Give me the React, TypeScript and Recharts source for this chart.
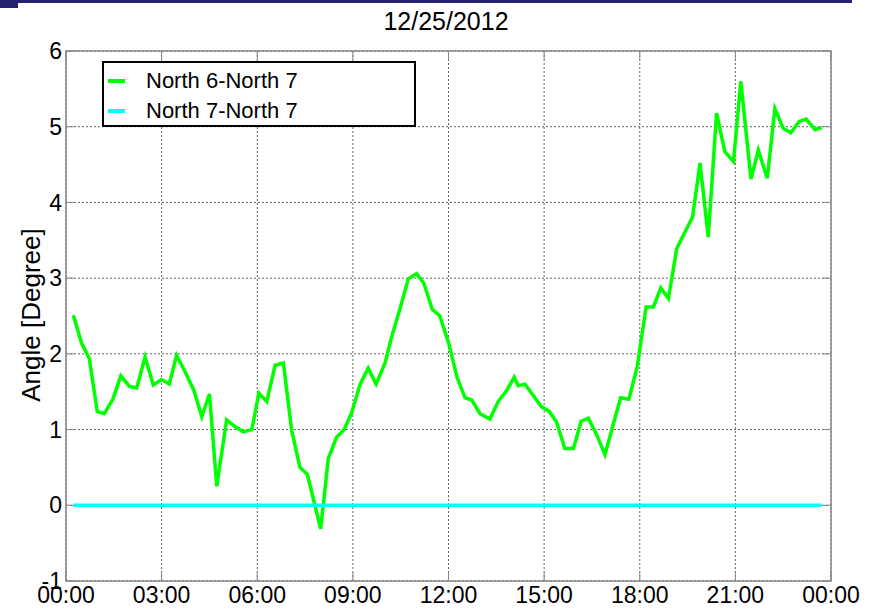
import { LineChart, Line, XAxis, YAxis, CartesianGrid, ReferenceArea, ReferenceLine } from 'recharts';

// hours since midnight
const northSixTimes = [
  0.23, 0.49, 0.73, 0.98, 1.2, 1.47, 1.72, 1.99, 2.22, 2.48, 2.74, 3.0, 3.24, 3.47, 3.73, 4.02,
  4.26, 4.5, 4.73, 5.04, 5.3, 5.56, 5.83, 6.05, 6.3, 6.56, 6.82, 7.08, 7.34, 7.57, 7.78, 7.99,
  8.23, 8.49, 8.73, 8.96, 9.22, 9.48, 9.73, 10.01, 10.22, 10.48, 10.74, 11.0, 11.23, 11.49, 11.73, 12.02,
  12.26, 12.52, 12.73, 12.99, 13.3, 13.56, 13.83, 14.06, 14.19, 14.4, 14.66, 14.92, 15.16, 15.39, 15.65, 15.92,
  16.16, 16.39, 16.65, 16.91, 17.15, 17.4, 17.66, 17.92, 18.2, 18.43, 18.66, 18.9, 19.16, 19.42, 19.66, 19.89,
  20.15, 20.41, 20.67, 20.94, 21.17, 21.49, 21.72, 22.0, 22.24, 22.5, 22.74, 23.0, 23.22, 23.5, 23.71,
];
const northSixValues = [
  2.51, 2.14, 1.94, 1.24, 1.21, 1.4, 1.71, 1.57, 1.55, 1.96, 1.59, 1.66, 1.6, 1.98, 1.77, 1.51,
  1.17, 1.47, 0.25, 1.13, 1.04, 0.97, 1.0, 1.48, 1.37, 1.85, 1.88, 0.99, 0.5, 0.41, 0.05, -0.31,
  0.62, 0.9, 1.0, 1.22, 1.59, 1.81, 1.6, 1.88, 2.23, 2.6, 2.99, 3.06, 2.93, 2.59, 2.5, 2.12,
  1.7, 1.42, 1.39, 1.21, 1.14, 1.37, 1.52, 1.69, 1.58, 1.6, 1.45, 1.3, 1.24, 1.1, 0.75, 0.75,
  1.11, 1.15, 0.93, 0.67, 1.04, 1.42, 1.4, 1.83, 2.62, 2.62, 2.87, 2.73, 3.39, 3.61, 3.81, 4.52,
  3.54, 5.18, 4.67, 4.54, 5.6, 4.31, 4.69, 4.32, 5.24, 4.98, 4.92, 5.07, 5.1, 4.96, 4.99,
];
const northSevenTimes = [0.23, 23.71];
const northSevenValues = [0, 0];

const xTicks = [0, 3, 6, 9, 12, 15, 18, 21, 24];
const xTickLabels = ['00:00', '03:00', '06:00', '09:00', '12:00', '15:00', '18:00', '21:00', '00:00'];
const yTicks = [-1, 0, 1, 2, 3, 4, 5, 6];

const seriesNames = ['North 6-North 7', 'North 7-North 7'];
const seriesColors = ['#00ff00', '#00ffff'];

const northSix = northSixTimes.map((t, i) => ({ t, v: northSixValues[i] }));
const northSeven = northSevenTimes.map((t, i) => ({ t, v: northSevenValues[i] }));

const sans = '"Liberation Sans", Arial, sans-serif';

function LegendBox() {
  return (
    <div
      style={{
        position: 'absolute',
        left: 102,
        top: 61,
        width: 314,
        height: 66,
        border: '2.5px solid #000',
        background: '#fff',
        fontFamily: sans,
        fontSize: 22,
        color: '#000',
        paddingTop: 3,
        boxSizing: 'border-box',
        zIndex: 2,
      }}
    >
      {seriesNames.map((name, i) => (
        <div key={name} style={{ display: 'flex', alignItems: 'center', height: 30 }}>
          <span style={{ display: 'inline-block', width: 17, height: 4, background: seriesColors[i], marginLeft: 4, marginRight: 21 }} />
          <span>{name}</span>
        </div>
      ))}
    </div>
  );
}

export default function App() {
  return (
    <div style={{ position: 'absolute', left: 0, top: 0, width: 875, height: 615, background: '#fff', overflow: 'hidden' }}>
      <div style={{ position: 'absolute', left: 0, top: 0, width: 852, height: 3, background: '#24246e' }} />
      <div style={{ position: 'absolute', left: 0, top: 3, width: 18, height: 5, background: '#24246e' }} />
      <div
        style={{
          position: 'absolute',
          left: 0,
          width: 892,
          top: 7,
          textAlign: 'center',
          fontFamily: sans,
          fontSize: 25,
          color: '#000',
        }}
      >
        12/25/2012
      </div>
      <div
        style={{
          position: 'absolute',
          left: 31,
          top: 315,
          transform: 'translate(-50%, -50%) rotate(-90deg)',
          whiteSpace: 'nowrap',
          fontFamily: sans,
          fontSize: 26,
          color: '#000',
        }}
      >
        Angle [Degree]
      </div>
      <LegendBox />
      <LineChart width={875} height={615} margin={{ top: 51, right: 44, bottom: 0, left: 0 }}>
        <CartesianGrid stroke="#666" strokeDasharray="2 2" />
        <XAxis
          dataKey="t"
          type="number"
          domain={[0, 24]}
          ticks={xTicks}
          tickFormatter={(v: number) => xTickLabels[xTicks.indexOf(v)]}
          axisLine={false}
          tickLine={false}
          tickSize={0}
          tickMargin={6}
          height={34}
          interval={0}
          allowDuplicatedCategory={false}
          tick={{ fill: '#000', fontSize: 23, fontFamily: sans }}
        />
        <YAxis
          type="number"
          domain={[-1, 6]}
          ticks={yTicks}
          axisLine={false}
          tickLine={false}
          tickSize={0}
          tickMargin={4}
          width={66}
          interval={0}
          tick={{ fill: '#000', fontSize: 23, fontFamily: sans }}
        />
        <ReferenceArea x1={0} x2={24} y1={-1} y2={6} fill="none" stroke="#888" strokeWidth={1.5} />
        {xTicks.map((t) => (
          <ReferenceLine key={`xb${t}`} segment={[{ x: t, y: -1 }, { x: t, y: -0.89 }]} stroke="#888" />
        ))}
        {xTicks.map((t) => (
          <ReferenceLine key={`xt${t}`} segment={[{ x: t, y: 6 }, { x: t, y: 5.89 }]} stroke="#888" />
        ))}
        {yTicks.map((v) => (
          <ReferenceLine key={`yl${v}`} segment={[{ x: 0, y: v }, { x: 0.25, y: v }]} stroke="#888" />
        ))}
        {yTicks.map((v) => (
          <ReferenceLine key={`yr${v}`} segment={[{ x: 23.75, y: v }, { x: 24, y: v }]} stroke="#888" />
        ))}
        <Line
          data={northSix}
          dataKey="v"
          name={seriesNames[0]}
          stroke={seriesColors[0]}
          strokeWidth={3.5}
          dot={false}
          type="linear"
          isAnimationActive={false}
        />
        <Line
          data={northSeven}
          dataKey="v"
          name={seriesNames[1]}
          stroke={seriesColors[1]}
          strokeWidth={3.5}
          dot={false}
          type="linear"
          isAnimationActive={false}
        />
      </LineChart>
    </div>
  );
}
